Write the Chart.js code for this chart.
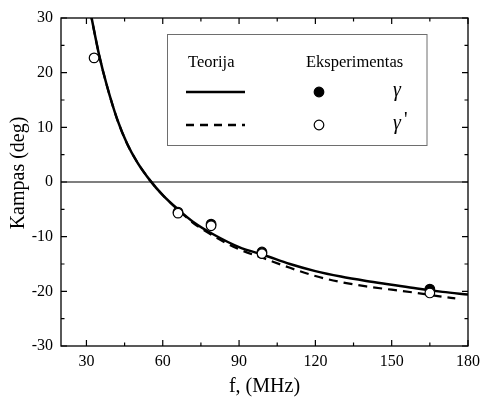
<!DOCTYPE html>
<html>
<head>
<meta charset="utf-8">
<script src="https://cdn.jsdelivr.net/npm/chart.js@4.4.0/dist/chart.umd.min.js"></script>
<style>
  html, body { margin: 0; padding: 0; background: #fff; }
</style>
</head>
<body>
<canvas id="kampas-chart" width="480" height="403"></canvas>
<script>
// Theory curves, values
const theoryF = [31.5, 33, 35, 38, 42, 46, 50, 55, 60, 66, 72, 80, 90, 100, 110, 120, 130, 140, 150, 160, 170, 180];
const theoryGamma = [31.3, 27.7, 23.2, 17.7, 11.6, 7.0, 3.6, 0.3, -2.4, -5.0, -7.3, -9.6, -11.9, -13.4, -15.0, -16.3, -17.3, -18.1, -18.8, -19.5, -20.1, -20.6];
const theoryPrimeF = [31.5, 33, 35, 38, 42, 46, 50, 55, 60, 66, 72, 80, 90, 100, 110, 120, 130, 140, 150, 160, 170, 175];
const theoryGammaPrime = [31.3, 27.7, 23.2, 17.7, 11.6, 7.0, 3.6, 0.3, -2.4, -5.1, -7.5, -9.9, -12.3, -14.0, -15.7, -17.2, -18.3, -19.1, -19.7, -20.3, -21.0, -21.3];

// Experimental points
const expF = [66, 79, 99, 165];
const expGamma = [-5.5, -7.7, -12.8, -19.6];
const expPrimeF = [33, 66, 79, 99, 165];
const expGammaPrime = [22.7, -5.7, -8.0, -13.1, -20.3];

// Tick values
const xTicks = [30, 60, 90, 120, 150, 180];
const xMinorTicks = [45, 75, 105, 135, 165];
const yTicks = [-30, -20, -10, 0, 10, 20, 30];
const yMinorTicks = [-25, -15, -5, 5, 15, 25];

const toPoints = (xs, ys) => xs.map((x, i) => ({ x: x, y: ys[i] }));
const serif = "'Liberation Serif', 'Times New Roman', serif";

// Frame with inward ticks on all four sides, zero line, axis titles and legend box
const framePlugin = {
  id: "frame",
  beforeDatasetsDraw(chart) {
    const { ctx, chartArea: a, scales } = chart;
    const y0 = scales.y.getPixelForValue(0);
    ctx.save();
    ctx.strokeStyle = "#000";
    ctx.lineWidth = 1.2;
    ctx.beginPath();
    ctx.moveTo(a.left, y0);
    ctx.lineTo(a.right, y0);
    ctx.stroke();
    ctx.restore();
  },
  afterDatasetsDraw(chart) {
    const { ctx, chartArea: a, scales } = chart;
    ctx.save();
    ctx.strokeStyle = "#000";
    ctx.lineWidth = 1.3;
    ctx.strokeRect(a.left, a.top, a.right - a.left, a.bottom - a.top);
    ctx.lineWidth = 1.2;
    ctx.beginPath();
    const xt = (v, len) => {
      const px = scales.x.getPixelForValue(v);
      ctx.moveTo(px, a.bottom); ctx.lineTo(px, a.bottom - len);
      ctx.moveTo(px, a.top); ctx.lineTo(px, a.top + len);
    };
    const yt = (v, len) => {
      const py = scales.y.getPixelForValue(v);
      ctx.moveTo(a.left, py); ctx.lineTo(a.left + len, py);
      ctx.moveTo(a.right, py); ctx.lineTo(a.right - len, py);
    };
    xTicks.forEach(v => xt(v, 6));
    xMinorTicks.forEach(v => xt(v, 3.5));
    yTicks.forEach(v => yt(v, 6));
    yMinorTicks.forEach(v => yt(v, 3.5));
    ctx.stroke();
    ctx.restore();
  },
  afterDraw(chart) {
    const ctx = chart.ctx;
    const a = chart.chartArea;
    ctx.save();

    // axis titles
    ctx.fillStyle = "#000";
    ctx.font = "20px " + serif;
    ctx.textAlign = "center";
    ctx.textBaseline = "middle";
    ctx.fillText("f, (MHz)", (a.left + a.right) / 2, 387);
    ctx.translate(19, 173);
    ctx.rotate(-Math.PI / 2);
    ctx.fillText("Kampas (deg)", 0, 0);
    ctx.setTransform(1, 0, 0, 1, 0, 0);
    ctx.textAlign = "left";

    // legend box
    ctx.fillStyle = "#fff";
    ctx.fillRect(167.5, 34.5, 259.5, 111);
    ctx.strokeStyle = "#6e6e6e";
    ctx.lineWidth = 1;
    ctx.strokeRect(167.5, 34.5, 259.5, 111);

    ctx.fillStyle = "#000";
    ctx.font = "16.5px " + serif;
    ctx.fillText("Teorija", 188, 63);
    ctx.fillText("Eksperimentas", 306, 63);

    ctx.strokeStyle = "#000";
    ctx.lineWidth = 2.5;
    ctx.beginPath();
    ctx.moveTo(186, 92); ctx.lineTo(245, 92);
    ctx.stroke();
    ctx.setLineDash([8, 6]);
    ctx.beginPath();
    ctx.moveTo(186, 125); ctx.lineTo(245, 125);
    ctx.stroke();
    ctx.setLineDash([]);

    ctx.lineWidth = 1.2;
    ctx.beginPath();
    ctx.arc(319, 92, 4.8, 0, Math.PI * 2);
    ctx.fill();
    ctx.stroke();
    ctx.fillStyle = "#fff";
    ctx.beginPath();
    ctx.arc(319, 125, 4.8, 0, Math.PI * 2);
    ctx.fill();
    ctx.stroke();

    ctx.fillStyle = "#000";
    ctx.font = "italic 20px " + serif;
    ctx.fillText("γ", 393, 91);
    ctx.fillText("γ", 393, 124);
    ctx.font = "20px " + serif;
    ctx.fillText("'", 404, 121);
    ctx.restore();
  }
};

const ctx = document.getElementById("kampas-chart").getContext("2d");

const kampasChart = new Chart(ctx, {
  type: "scatter",
  data: {
    datasets: [
      {
        label: "γ' (eksp.)",
        data: toPoints(expPrimeF, expGammaPrime),
        pointRadius: 4.8,
        pointBackgroundColor: "#fff",
        pointBorderColor: "#000",
        pointBorderWidth: 1.2,
        order: 0,
      },
      {
        label: "γ (eksp.)",
        data: toPoints(expF, expGamma),
        pointRadius: 4.8,
        pointBackgroundColor: "#000",
        pointBorderColor: "#000",
        pointBorderWidth: 1.2,
        order: 1,
      },
      {
        label: "γ (teorija)",
        data: toPoints(theoryF, theoryGamma),
        showLine: true,
        pointRadius: 0,
        borderColor: "#000",
        borderWidth: 2.5,
        cubicInterpolationMode: "monotone",
        clip: 0,
        order: 2,
      },
      {
        label: "γ' (teorija)",
        data: toPoints(theoryPrimeF, theoryGammaPrime),
        showLine: true,
        pointRadius: 0,
        borderColor: "#000",
        borderWidth: 2.2,
        borderDash: [9, 6],
        cubicInterpolationMode: "monotone",
        clip: 0,
        order: 3,
      },
    ],
  },
  options: {
    responsive: false,
    animation: false,
    layout: { padding: { top: 18, right: 0, left: 0, bottom: 0 } },
    plugins: {
      legend: { display: false },
      tooltip: { enabled: false },
    },
    scales: {
      x: {
        type: "linear",
        min: 20,
        max: 180,
        grid: { display: false, drawTicks: false },
        border: { display: false },
        afterBuildTicks: (scale) => {
          scale.ticks = xTicks.map(v => ({ value: v }));
        },
        afterFit: (scale) => {
          scale.height = 57;
          scale.paddingLeft = 0;
          scale.paddingRight = 12;
        },
        ticks: {
          autoSkip: false,
          maxRotation: 0,
          padding: 6,
          color: "#000",
          font: { family: serif, size: 16 },
        },
      },
      y: {
        min: -30,
        max: 30,
        grid: { display: false, drawTicks: false },
        border: { display: false },
        afterBuildTicks: (scale) => {
          scale.ticks = yTicks.map(v => ({ value: v }));
        },
        afterFit: (scale) => { scale.width = 61; },
        ticks: {
          padding: 8,
          color: "#000",
          font: { family: serif, size: 16 },
        },
      },
    },
  },
  plugins: [framePlugin],
});
</script>
</body>
</html>
